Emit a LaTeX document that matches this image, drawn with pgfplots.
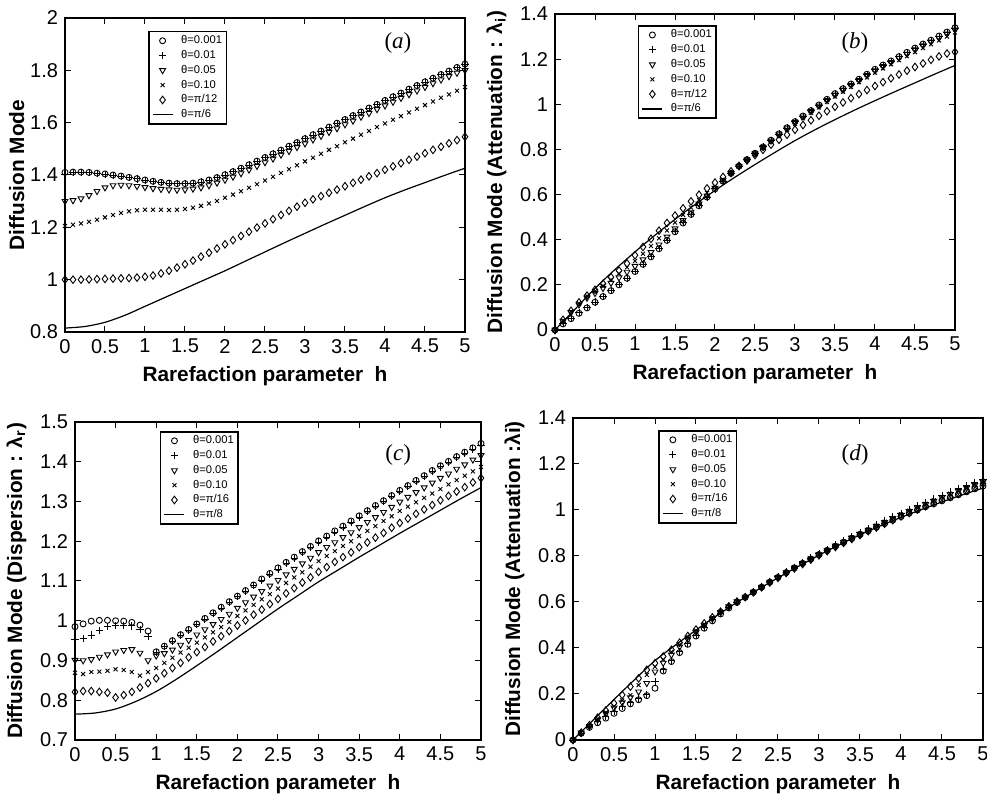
\documentclass[border=0pt]{standalone}
\usepackage{fontspec}
\setmainfont{Liberation Sans}
\newfontfamily\tnr{Liberation Serif}
\usepackage{pgfplots}
\usepackage{pgfplotstable}
\pgfplotsset{compat=1.18}

% columns: h, theta=0.001 (c), 0.01 (p), 0.05 (t), 0.10 (x), last marker series (d)
\pgfplotstableread{
h   c     p     t     x     d
0.0 1.410 1.402 1.300 1.205 1.000
0.1 1.411 1.408 1.303 1.210 1.000
0.2 1.411 1.409 1.310 1.215 1.000
0.3 1.410 1.408 1.322 1.221 1.001
0.4 1.407 1.406 1.338 1.229 1.002
0.5 1.404 1.403 1.352 1.238 1.003
0.6 1.400 1.399 1.360 1.247 1.004
0.7 1.396 1.395 1.362 1.255 1.005
0.8 1.391 1.390 1.360 1.261 1.006
0.9 1.386 1.385 1.357 1.265 1.008
1.0 1.381 1.380 1.353 1.267 1.011
1.1 1.376 1.375 1.349 1.267 1.016
1.2 1.372 1.371 1.346 1.267 1.024
1.3 1.369 1.368 1.344 1.266 1.034
1.4 1.367 1.366 1.343 1.267 1.046
1.5 1.367 1.366 1.344 1.270 1.059
1.6 1.369 1.368 1.347 1.275 1.073
1.7 1.374 1.373 1.352 1.282 1.088
1.8 1.381 1.380 1.360 1.291 1.103
1.9 1.390 1.389 1.370 1.301 1.119
2.0 1.401 1.400 1.381 1.313 1.135
2.1 1.413 1.412 1.393 1.325 1.151
2.2 1.426 1.425 1.406 1.338 1.167
2.3 1.439 1.438 1.420 1.351 1.183
2.4 1.453 1.452 1.434 1.365 1.199
2.5 1.467 1.466 1.448 1.379 1.215
2.6 1.481 1.480 1.462 1.393 1.231
2.7 1.495 1.494 1.477 1.408 1.247
2.8 1.510 1.509 1.491 1.422 1.263
2.9 1.524 1.523 1.506 1.437 1.279
3.0 1.539 1.538 1.520 1.452 1.294
3.1 1.554 1.553 1.535 1.466 1.307
3.2 1.568 1.567 1.549 1.481 1.319
3.3 1.583 1.582 1.564 1.496 1.332
3.4 1.598 1.597 1.578 1.510 1.344
3.5 1.612 1.611 1.593 1.525 1.357
3.6 1.627 1.626 1.607 1.539 1.370
3.7 1.641 1.640 1.622 1.554 1.382
3.8 1.656 1.655 1.636 1.568 1.395
3.9 1.670 1.669 1.651 1.583 1.407
4.0 1.685 1.684 1.665 1.597 1.420
4.1 1.699 1.698 1.679 1.611 1.433
4.2 1.713 1.712 1.694 1.625 1.445
4.3 1.728 1.727 1.708 1.639 1.458
4.4 1.742 1.741 1.722 1.653 1.470
4.5 1.756 1.755 1.736 1.667 1.483
4.6 1.770 1.769 1.750 1.681 1.496
4.7 1.784 1.783 1.764 1.695 1.508
4.8 1.797 1.796 1.777 1.708 1.521
4.9 1.811 1.810 1.790 1.722 1.533
5.0 1.824 1.822 1.800 1.736 1.546
}\tabA

\pgfplotstableread{
h   c     p     t     x     d
0.0 0.000 0.000 0.000 0.000 0.000
0.1 0.027 0.030 0.040 0.042 0.045
0.2 0.050 0.053 0.078 0.082 0.085
0.3 0.074 0.076 0.112 0.118 0.122
0.4 0.098 0.100 0.142 0.150 0.152
0.5 0.123 0.124 0.163 0.172 0.178
0.6 0.148 0.149 0.185 0.196 0.205
0.7 0.174 0.175 0.208 0.222 0.234
0.8 0.200 0.201 0.232 0.250 0.263
0.9 0.229 0.230 0.257 0.278 0.295
1.0 0.259 0.260 0.283 0.306 0.331
1.1 0.291 0.292 0.312 0.338 0.368
1.2 0.324 0.325 0.344 0.372 0.404
1.3 0.360 0.361 0.378 0.406 0.440
1.4 0.397 0.398 0.413 0.441 0.474
1.5 0.435 0.436 0.449 0.476 0.507
1.6 0.474 0.475 0.486 0.510 0.539
1.7 0.512 0.513 0.523 0.543 0.570
1.8 0.550 0.551 0.559 0.576 0.599
1.9 0.589 0.589 0.595 0.607 0.627
2.0 0.625 0.625 0.629 0.637 0.653
2.1 0.659 0.659 0.662 0.666 0.678
2.2 0.694 0.694 0.694 0.695 0.703
2.3 0.726 0.726 0.725 0.724 0.727
2.4 0.755 0.755 0.754 0.752 0.751
2.5 0.783 0.783 0.782 0.780 0.775
2.6 0.811 0.811 0.810 0.807 0.798
2.7 0.841 0.840 0.838 0.834 0.821
2.8 0.869 0.868 0.866 0.861 0.843
2.9 0.896 0.895 0.893 0.887 0.865
3.0 0.923 0.922 0.920 0.913 0.887
3.1 0.948 0.947 0.945 0.938 0.908
3.2 0.972 0.971 0.969 0.962 0.929
3.3 0.997 0.996 0.993 0.986 0.949
3.4 1.022 1.021 1.018 1.010 0.969
3.5 1.047 1.046 1.042 1.034 0.989
3.6 1.069 1.068 1.064 1.056 1.008
3.7 1.090 1.089 1.085 1.077 1.027
3.8 1.111 1.110 1.106 1.098 1.045
3.9 1.133 1.132 1.128 1.119 1.063
4.0 1.155 1.154 1.149 1.140 1.081
4.1 1.174 1.173 1.168 1.159 1.098
4.2 1.192 1.191 1.186 1.177 1.115
4.3 1.211 1.210 1.205 1.195 1.132
4.4 1.230 1.229 1.223 1.213 1.149
4.5 1.249 1.248 1.242 1.231 1.165
4.6 1.267 1.266 1.260 1.249 1.181
4.7 1.284 1.283 1.277 1.266 1.197
4.8 1.302 1.301 1.294 1.283 1.212
4.9 1.320 1.319 1.312 1.300 1.225
5.0 1.339 1.338 1.330 1.318 1.232
}\tabB

\pgfplotstableread{
h   c     p     t     x     d
0.0 0.985 0.953 0.901 0.869 0.821
0.1 0.992 0.955 0.900 0.866 0.823
0.2 0.999 0.964 0.903 0.871 0.823
0.3 1.001 0.975 0.909 0.872 0.821
0.4 1.001 0.985 0.915 0.874 0.819
0.5 1.000 0.989 0.922 0.878 0.807
0.6 0.999 0.989 0.926 0.876 0.813
0.7 0.996 0.987 0.928 0.871 0.821
0.8 0.989 0.978 0.919 0.862 0.832
0.9 0.974 0.961 0.900 0.871 0.843
1.0 0.922 0.921 0.912 0.881 0.855
1.1 0.936 0.935 0.918 0.894 0.868
1.2 0.950 0.949 0.927 0.907 0.881
1.3 0.965 0.963 0.939 0.920 0.894
1.4 0.978 0.976 0.951 0.932 0.908
1.5 0.992 0.990 0.965 0.945 0.921
1.6 1.006 1.004 0.978 0.958 0.934
1.7 1.020 1.018 0.991 0.971 0.948
1.8 1.034 1.032 1.004 0.984 0.961
1.9 1.048 1.046 1.017 0.997 0.974
2.0 1.062 1.060 1.032 1.012 0.988
2.1 1.076 1.074 1.046 1.026 1.001
2.2 1.090 1.088 1.060 1.040 1.015
2.3 1.105 1.102 1.074 1.054 1.028
2.4 1.119 1.116 1.088 1.067 1.042
2.5 1.133 1.130 1.102 1.081 1.055
2.6 1.147 1.144 1.116 1.095 1.069
2.7 1.160 1.157 1.130 1.109 1.082
2.8 1.174 1.171 1.144 1.122 1.096
2.9 1.187 1.184 1.158 1.136 1.109
3.0 1.201 1.198 1.172 1.150 1.123
3.1 1.213 1.210 1.185 1.163 1.135
3.2 1.226 1.223 1.197 1.175 1.148
3.3 1.238 1.235 1.210 1.188 1.160
3.4 1.251 1.248 1.222 1.200 1.172
3.5 1.264 1.261 1.235 1.213 1.185
3.6 1.277 1.274 1.248 1.226 1.197
3.7 1.290 1.287 1.260 1.238 1.209
3.8 1.302 1.299 1.273 1.251 1.221
3.9 1.315 1.312 1.286 1.263 1.234
4.0 1.328 1.325 1.299 1.276 1.246
4.1 1.340 1.337 1.311 1.287 1.257
4.2 1.353 1.350 1.323 1.298 1.269
4.3 1.365 1.362 1.335 1.309 1.280
4.4 1.378 1.375 1.347 1.320 1.291
4.5 1.390 1.387 1.359 1.331 1.303
4.6 1.401 1.398 1.370 1.343 1.314
4.7 1.413 1.410 1.382 1.354 1.325
4.8 1.424 1.421 1.393 1.365 1.336
4.9 1.435 1.432 1.405 1.376 1.348
5.0 1.446 1.442 1.416 1.387 1.359
}\tabC

\pgfplotstableread{
h   c     p     t     x     d
0.0 0.000 0.000 0.000 0.000 0.000
0.1 0.029 0.030 0.031 0.032 0.032
0.2 0.055 0.057 0.060 0.062 0.064
0.3 0.075 0.080 0.088 0.092 0.097
0.4 0.095 0.104 0.115 0.120 0.128
0.5 0.116 0.125 0.140 0.147 0.160
0.6 0.137 0.145 0.163 0.172 0.196
0.7 0.157 0.163 0.185 0.195 0.232
0.8 0.175 0.180 0.210 0.239 0.268
0.9 0.193 0.197 0.247 0.283 0.305
1.0 0.225 0.254 0.297 0.318 0.334
1.1 0.300 0.305 0.335 0.350 0.363
1.2 0.341 0.345 0.370 0.383 0.392
1.3 0.380 0.384 0.405 0.415 0.423
1.4 0.416 0.420 0.437 0.446 0.452
1.5 0.452 0.456 0.468 0.476 0.480
1.6 0.486 0.490 0.498 0.504 0.507
1.7 0.518 0.522 0.527 0.532 0.533
1.8 0.548 0.552 0.555 0.558 0.558
1.9 0.574 0.578 0.580 0.582 0.581
2.0 0.598 0.600 0.602 0.603 0.602
2.1 0.620 0.622 0.622 0.622 0.621
2.2 0.642 0.644 0.643 0.644 0.642
2.3 0.664 0.666 0.665 0.665 0.664
2.4 0.686 0.688 0.687 0.687 0.685
2.5 0.707 0.709 0.707 0.708 0.705
2.6 0.728 0.730 0.728 0.729 0.726
2.7 0.748 0.751 0.749 0.750 0.746
2.8 0.768 0.771 0.768 0.769 0.765
2.9 0.787 0.791 0.788 0.789 0.784
3.0 0.806 0.810 0.806 0.808 0.803
3.1 0.824 0.829 0.825 0.827 0.821
3.2 0.842 0.848 0.844 0.845 0.839
3.3 0.859 0.866 0.861 0.863 0.857
3.4 0.876 0.884 0.879 0.881 0.874
3.5 0.893 0.902 0.896 0.898 0.891
3.6 0.909 0.919 0.913 0.915 0.908
3.7 0.925 0.936 0.930 0.932 0.924
3.8 0.941 0.953 0.946 0.949 0.940
3.9 0.956 0.970 0.963 0.965 0.956
4.0 0.971 0.986 0.978 0.981 0.972
4.1 0.986 1.002 0.994 0.997 0.987
4.2 1.000 1.018 1.010 1.012 1.002
4.3 1.014 1.033 1.024 1.027 1.016
4.4 1.027 1.048 1.039 1.042 1.030
4.5 1.040 1.063 1.054 1.056 1.044
4.6 1.053 1.078 1.068 1.071 1.058
4.7 1.066 1.092 1.082 1.085 1.072
4.8 1.079 1.106 1.096 1.098 1.086
4.9 1.092 1.120 1.109 1.112 1.100
5.0 1.104 1.134 1.122 1.126 1.114
}\tabD

\pgfplotsset{
  panel/.style={
    scale only axis,
    xmin=0, xmax=5, xtick={0,0.5,...,5},
    tick align=inside, xtick pos=both, ytick pos=both,
    major tick length=2.8pt,
    axis line style={line width=0.9pt},
    every tick/.style={black, line width=0.5pt},
    /pgf/number format/assume math mode=true,
    tick label style={font=\fontsize{10}{11}\selectfont},
    label style={font=\fontsize{10.4}{12}\selectfont\bfseries},
    xlabel={Rarefaction parameter\hspace{0.55em}h},
    xlabel style={yshift=0.5pt},
    legend cell align=left,
    legend image code/.code={\draw[mark repeat=2,mark phase=2,##1] plot coordinates {(0pt,0pt) (5pt,0pt) (10pt,0pt)};},
    legend style={anchor=north west, draw=black, line width=0.8pt,
      font=\fontsize{5.6}{6.5}\selectfont, inner xsep=1.6pt, inner ysep=1.4pt,
      row sep=1.1pt,
      nodes={inner sep=0.6pt, text height=4pt, text depth=1.1pt},
      /tikz/every odd column/.append style={column sep=3.4pt}},
  },
  sC/.style={only marks, black, mark=o, mark size=1.5pt, line width=0.45pt},
  sP/.style={only marks, black, mark=+, mark size=1.8pt, line width=0.45pt},
  sT/.style={only marks, black, mark=triangle, mark size=1.7pt, line width=0.45pt, mark options={rotate=180}},
  sX/.style={only marks, black, mark=x, mark size=1.4pt, line width=0.45pt},
  sD/.style={only marks, black, mark=diamond, mark size=1.9pt, line width=0.45pt},
  sL/.style={no marks, black, line width=0.6pt, smooth},
}

\begin{document}
\begin{tikzpicture}
\useasboundingbox (0,0) rectangle (493.5pt,401pt);

% (a)
\begin{axis}[panel, at={(32.5pt,235pt)}, anchor=south west,
  width=200pt, height=157pt,
  ymin=0.8, ymax=2, ytick={0.8,1,...,2},
  ylabel={Diffusion Mode}, ylabel style={yshift=-4pt},
  legend style={at={(0.2075,0.959)}}]
\addplot[sC] table[x=h,y=c]{\tabA}; \addlegendentry{θ=0.001}
\addplot[sP] table[x=h,y=p]{\tabA}; \addlegendentry{θ=0.01}
\addplot[sT] table[x=h,y=t]{\tabA}; \addlegendentry{θ=0.05}
\addplot[sX] table[x=h,y=x]{\tabA}; \addlegendentry{θ=0.10}
\addplot[sD] table[x=h,y=d]{\tabA}; \addlegendentry{θ=π/12}
\addplot[sL] coordinates {(0,0.815)(0.25,0.821)(0.5,0.837)(0.75,0.864)(1,0.898)(1.25,0.932)(1.5,0.966)(1.75,1.0)(2,1.034)(2.25,1.07)(2.5,1.106)(2.75,1.142)(3,1.177)(3.25,1.212)(3.5,1.246)(3.75,1.28)(4,1.313)(4.25,1.343)(4.5,1.371)(4.75,1.399)(5,1.426)};
\addlegendentry{θ=π/6}
\node[font=\tnr\fontsize{11.5}{12}\selectfont] at (rel axis cs:0.8325,0.92) {(\textit{a})};
\end{axis}

% (b)
\begin{axis}[panel, at={(277.5pt,236pt)}, anchor=south west,
  width=200pt, height=158pt,
  ymin=0, ymax=1.4, ytick={0,0.2,...,1.4},
  ylabel={Diffusion Mode (Attenuation : λ\textsubscript{i})},
  legend style={at={(0.207,0.965)}}]
\addplot[sC] table[x=h,y=c]{\tabB}; \addlegendentry{θ=0.001}
\addplot[sP] table[x=h,y=p]{\tabB}; \addlegendentry{θ=0.01}
\addplot[sT] table[x=h,y=t]{\tabB}; \addlegendentry{θ=0.05}
\addplot[sX] table[x=h,y=x]{\tabB}; \addlegendentry{θ=0.10}
\addplot[sD] table[x=h,y=d]{\tabB}; \addlegendentry{θ=π/12}
\addplot[sL] coordinates {(0,0)(0.25,0.092)(0.5,0.184)(0.75,0.268)(1,0.346)(1.25,0.42)(1.5,0.49)(1.75,0.556)(2,0.618)(2.25,0.677)(2.5,0.733)(2.75,0.787)(3,0.839)(3.25,0.887)(3.5,0.932)(3.75,0.975)(4,1.016)(4.25,1.056)(4.5,1.095)(4.75,1.134)(5,1.172)};
\addlegendentry{θ=π/6}
\node[font=\tnr\fontsize{11.5}{12}\selectfont] at (rel axis cs:0.75,0.908) {(\textit{b})};
\end{axis}

% (c)
\begin{axis}[panel, at={(37.5pt,31pt)}, anchor=south west,
  width=203pt, height=159pt,
  ymin=0.7, ymax=1.5, ytick={0.7,0.8,...,1.5},
  ylabel={Diffusion Mode (Dispersion : λ\textsubscript{r})},
  legend style={at={(0.209,0.972)}}]
\addplot[sC] table[x=h,y=c]{\tabC}; \addlegendentry{θ=0.001}
\addplot[sP] table[x=h,y=p]{\tabC}; \addlegendentry{θ=0.01}
\addplot[sT] table[x=h,y=t]{\tabC}; \addlegendentry{θ=0.05}
\addplot[sX] table[x=h,y=x]{\tabC}; \addlegendentry{θ=0.10}
\addplot[sD] table[x=h,y=d]{\tabC}; \addlegendentry{θ=π/16}
\addplot[sL] coordinates {(0,0.765)(0.25,0.768)(0.5,0.778)(0.75,0.797)(1,0.822)(1.25,0.853)(1.5,0.887)(1.75,0.922)(2,0.958)(2.25,0.994)(2.5,1.03)(2.75,1.064)(3,1.098)(3.25,1.129)(3.5,1.16)(3.75,1.19)(4,1.22)(4.25,1.249)(4.5,1.278)(4.75,1.307)(5,1.335)};
\addlegendentry{θ=π/8}
\node[font=\tnr\fontsize{11.5}{12}\selectfont] at (rel axis cs:0.796,0.896) {(\textit{c})};
\end{axis}

% (d)
\begin{axis}[panel, at={(286.5pt,31pt)}, anchor=south west,
  width=205pt, height=161pt,
  ymin=0, ymax=1.4, ytick={0,0.2,...,1.4},
  ylabel={Diffusion Mode (Attenuation :λi)},
  legend style={at={(0.208,0.963)}}]
\addplot[sC] table[x=h,y=c]{\tabD}; \addlegendentry{θ=0.001}
\addplot[sP] table[x=h,y=p]{\tabD}; \addlegendentry{θ=0.01}
\addplot[sT] table[x=h,y=t]{\tabD}; \addlegendentry{θ=0.05}
\addplot[sX] table[x=h,y=x]{\tabD}; \addlegendentry{θ=0.10}
\addplot[sD] table[x=h,y=d]{\tabD}; \addlegendentry{θ=π/16}
\addplot[sL] coordinates {(0,0)(0.25,0.088)(0.5,0.176)(0.75,0.262)(1,0.345)(1.25,0.413)(1.5,0.478)(1.75,0.54)(2,0.598)(2.25,0.653)(2.5,0.705)(2.75,0.755)(3,0.803)(3.25,0.849)(3.5,0.892)(3.75,0.931)(4,0.968)(4.25,1.002)(4.5,1.035)(4.75,1.066)(5,1.095)};
\addlegendentry{θ=π/8}
\node[font=\tnr\fontsize{11.5}{12}\selectfont] at (rel axis cs:0.688,0.885) {(\textit{d})};
\end{axis}
\end{tikzpicture}
\end{document}
